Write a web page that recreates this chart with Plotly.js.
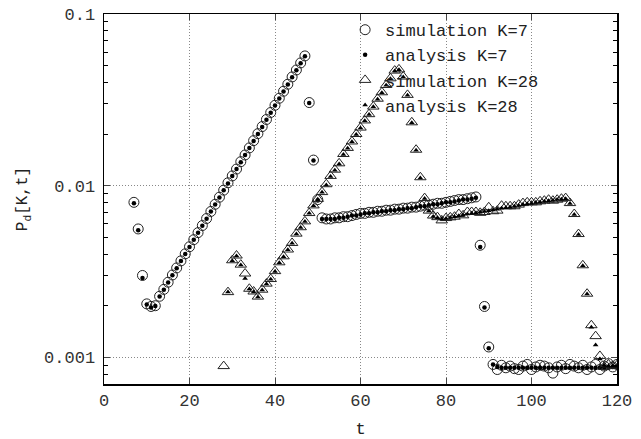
<!DOCTYPE html>
<html>
<head>
<meta charset="utf-8">
<script src="https://cdn.plot.ly/plotly-3.0.1.min.js"></script>
<style>html,body{margin:0;padding:0;background:#fff;}#chart{width:641px;height:439px;}</style>
</head>
<body>
<div id="chart"></div>
<script>
// ---- data ----
const simK7Start = 7;
const simK7 = [
  0.0080, 0.0056, 0.0030, 0.00205, 0.00198, 0.00200,
  0.00227, 0.00249, 0.00274, 0.00302, 0.00332, 0.00365, 0.00401, 0.00441,
  0.00485, 0.00533, 0.00586, 0.00644, 0.00708, 0.00779, 0.00857, 0.00942,
  0.0104, 0.0114, 0.0125, 0.0138, 0.0151, 0.0166, 0.0183, 0.0201,
  0.0221, 0.0243, 0.0267, 0.0294, 0.0323, 0.0355, 0.0390, 0.0430,
  0.0472, 0.0519, 0.0570,
  0.0305, 0.0141, 0.0083,
  0.0065, 0.0064, 0.0064, 0.0065, 0.0065, 0.0066, 0.0066, 0.0067, 0.0068, 0.0069,
  0.0069, 0.0070, 0.0070, 0.0071, 0.0071, 0.0072, 0.0072, 0.0073, 0.0073, 0.0074,
  0.0074, 0.0075, 0.0075, 0.0076, 0.0077, 0.0077, 0.0078, 0.0079, 0.0079, 0.0080,
  0.0081, 0.0082, 0.0083, 0.0083, 0.0084, 0.0085, 0.0086,
  0.0045, 0.00198, 0.00115,
  0.00091, 0.00085, 0.00090, 0.00087, 0.00089, 0.00086, 0.00085, 0.00089, 0.00091, 0.00085,
  0.00088, 0.00090, 0.00089, 0.00087, 0.00081, 0.00088, 0.00090, 0.00086, 0.00091, 0.00089,
  0.00087, 0.00090, 0.00085, 0.00088, 0.00091, 0.00085, 0.00089, 0.00092, 0.00088, 0.00091
];
const anaK7Start = 7;
const anaK7 = [
  0.0079, 0.0055, 0.0029, 0.00203, 0.00195, 0.00199,
  0.00226, 0.00248, 0.00273, 0.00301, 0.00331, 0.00364, 0.00400, 0.00440,
  0.00484, 0.00532, 0.00585, 0.00643, 0.00707, 0.00778, 0.00855, 0.00940,
  0.0103, 0.0114, 0.0125, 0.0137, 0.0151, 0.0166, 0.0182, 0.0200,
  0.0220, 0.0242, 0.0266, 0.0293, 0.0322, 0.0354, 0.0389, 0.0428,
  0.0471, 0.0517, 0.0568,
  0.0303, 0.0140, 0.0082,
  0.0064, 0.0064, 0.0064, 0.0064, 0.0065, 0.0065, 0.0066, 0.0067, 0.0067, 0.0068,
  0.0069, 0.0069, 0.0070, 0.0070, 0.0071, 0.0071, 0.0072, 0.0072, 0.0073, 0.0073,
  0.0074, 0.0074, 0.0075, 0.0076, 0.0076, 0.0077, 0.0078, 0.0078, 0.0079, 0.0080,
  0.0080, 0.0081, 0.0082, 0.0083, 0.0083, 0.0084, 0.0085,
  0.0044, 0.00195, 0.00113,
  0.00091, 0.00088, 0.00087, 0.00087, 0.00087, 0.00087, 0.00087, 0.00087, 0.00087, 0.00087,
  0.00087, 0.00087, 0.00087, 0.00087, 0.00087, 0.00087, 0.00087, 0.00087, 0.00087, 0.00087,
  0.00087, 0.00087, 0.00087, 0.00087, 0.00087, 0.00087, 0.00087, 0.00088, 0.00088, 0.00088
];
const simK28Start = 28;
const simK28 = [
  0.00089, 0.00240, 0.00368, 0.00392, 0.00347, 0.00308, 0.00251, 0.00242, 0.00226,
  0.00248, 0.00269, 0.00286, 0.00318, 0.00358, 0.00388, 0.00425, 0.00464, 0.00526,
  0.00573, 0.00620, 0.00693, 0.00768, 0.00838, 0.00918, 0.0102, 0.0114, 0.0124,
  0.0135, 0.0153, 0.0166, 0.0181, 0.0200, 0.0218, 0.0240, 0.0261, 0.0289, 0.0321,
  0.0350, 0.0386, 0.0422, 0.0468, 0.0476, 0.0432, 0.0338, 0.0234, 0.0162, 0.0112,
  0.00847, 0.00716, 0.00670, 0.00656, 0.00628, 0.00648, 0.00654, 0.00660, 0.00684,
  0.00672, 0.00703, 0.00703, 0.00703, 0.00695, 0.00703, 0.00749, 0.00710, 0.00716,
  0.00765, 0.00759, 0.00759, 0.00759, 0.00776, 0.00792, 0.00800, 0.00800, 0.00800,
  0.00811, 0.00818, 0.00829, 0.00818, 0.00829, 0.00840, 0.00847, 0.00792, 0.00684,
  0.00523, 0.00344, 0.00235, 0.00154, 0.00133, 0.00102, 0.00088, 0.00091, 0.00089, 0.00090
];
const anaK28Start = 29;
const anaK28 = [
  0.00240, 0.00365, 0.00390, 0.00345, 0.00288, 0.00250, 0.00240, 0.00225,
  0.00247, 0.00268, 0.00285, 0.00316, 0.00356, 0.00386, 0.00423, 0.00462, 0.00523,
  0.00570, 0.00618, 0.00690, 0.00765, 0.00835, 0.00915, 0.0101, 0.0113, 0.0123,
  0.0134, 0.0152, 0.0165, 0.0180, 0.0199, 0.0217, 0.0239, 0.0260, 0.0288, 0.0319,
  0.0348, 0.0384, 0.0420, 0.0465, 0.0473, 0.0430, 0.0336, 0.0233, 0.0161, 0.0111,
  0.00842, 0.00712, 0.00662, 0.00650, 0.00640, 0.00645, 0.00652, 0.00660, 0.00668,
  0.00676, 0.00684, 0.00690, 0.00696, 0.00702, 0.00708, 0.00715, 0.00722, 0.00730,
  0.00738, 0.00745, 0.00752, 0.00760, 0.00768, 0.00776, 0.00784, 0.00790, 0.00798,
  0.00805, 0.00812, 0.00818, 0.00824, 0.00830, 0.00835, 0.00840, 0.00788, 0.00680,
  0.00520, 0.00342, 0.00234, 0.00150, 0.00118, 0.00098, 0.00090, 0.00089, 0.00089, 0.00089
];
const names = ['simulation K=7', 'analysis K=7', 'simulation K=28', 'analysis K=28'];
const xTickVals = [0, 20, 40, 60, 80, 100, 120];
const yTickVals = [0.001, 0.01, 0.1];
const yTickText = ['0.001', '0.01', '0.1'];

function ts(start, arr) { return arr.map((_, i) => start + i); }

const mono = 'Liberation Mono, Courier New, monospace';
const ink = '#222';

const traces = [
  { x: ts(simK7Start, simK7), y: simK7, name: names[0], type: 'scatter', mode: 'markers',
    marker: { symbol: 'circle-open', size: 10, color: ink, line: { width: 1, color: ink } } },
  { x: ts(anaK7Start, anaK7), y: anaK7, name: names[1], type: 'scatter', mode: 'markers',
    marker: { symbol: 'circle', size: 4.5, color: '#000' } },
  { x: ts(simK28Start, simK28), y: simK28, name: names[2], type: 'scatter', mode: 'markers',
    marker: { symbol: 'triangle-up-open', size: 10, color: ink, line: { width: 1, color: ink } } },
  { x: ts(anaK28Start, anaK28), y: anaK28, name: names[3], type: 'scatter', mode: 'markers',
    marker: { symbol: 'triangle-up', size: 5, color: '#000' } }
];

const layout = {
  width: 641, height: 439,
  margin: { l: 104, r: 24, t: 12, b: 55 },
  paper_bgcolor: '#fff', plot_bgcolor: '#fff',
  font: { family: mono, size: 17, color: '#222' },
  showlegend: true,
  legend: {
    x: 0.47, y: 1.005, xanchor: 'left', yanchor: 'top',
    bgcolor: 'rgba(0,0,0,0)', borderwidth: 0,
    font: { family: mono, size: 17, color: '#222' },
    tracegroupgap: 0, itemsizing: 'trace'
  },
  xaxis: {
    range: [0, 120], tickvals: xTickVals, ticks: 'inside', ticklen: 6,
    showline: true, linecolor: '#000', linewidth: 1.5, mirror: 'ticks',
    showgrid: true, gridcolor: '#888', griddash: '1px,2px', gridwidth: 1,
    zeroline: false, tickfont: { family: mono, size: 17, color: '#333' },
    title: { text: 't', font: { family: mono, size: 17, color: '#222' }, standoff: 12 }
  },
  yaxis: {
    type: 'log', range: [Math.log10(0.0007), -1],
    tickvals: yTickVals, ticktext: yTickText, ticks: 'inside', ticklen: 6,
    showline: true, linecolor: '#000', linewidth: 1.5, mirror: 'ticks',
    showgrid: true, gridcolor: '#888', griddash: '1px,2px', gridwidth: 1,
    zeroline: false, tickfont: { family: mono, size: 17, color: '#333' },
    ticklabelstandoff: 4,
    minor: { ticks: 'inside', ticklen: 4, dtick: 'D1', showgrid: false, tickcolor: '#000' },
    title: { text: 'P<sub>d</sub>[K,t]', font: { family: mono, size: 16, color: '#222' }, standoff: 12 }
  }
};

Plotly.newPlot('chart', traces, layout, { staticPlot: true, displayModeBar: false });
</script>
</body>
</html>
